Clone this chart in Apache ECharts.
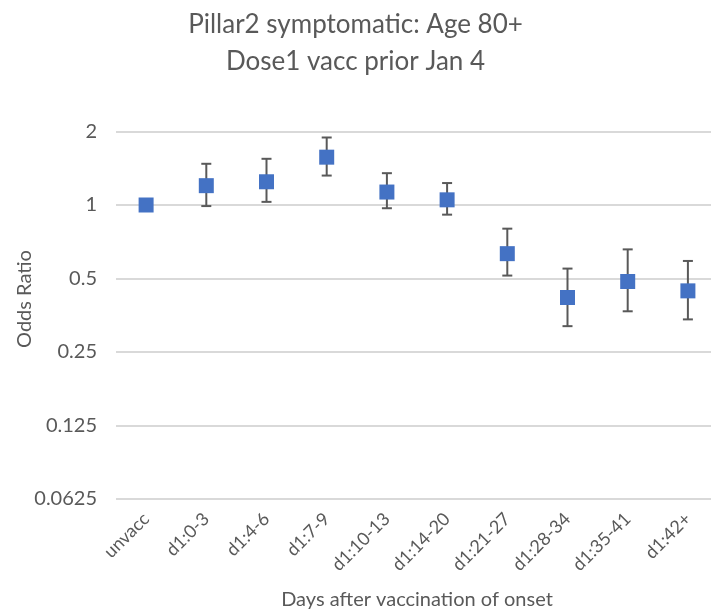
<!DOCTYPE html>
<html>
<head>
<meta charset="utf-8">
<script src="https://cdn.jsdelivr.net/npm/echarts@6/dist/echarts.min.js"></script>
<style>html,body{margin:0;padding:0;background:#fff;overflow:hidden}#c{width:711px;height:614px}</style>
</head>
<body>
<div id="c"></div>
<script>
var categories = ['unvacc','d1:0-3','d1:4-6','d1:7-9','d1:10-13','d1:14-20','d1:21-27','d1:28-34','d1:35-41','d1:42+'];
var oddsRatio = [1, 1.20, 1.245, 1.57, 1.13, 1.05, 0.632, 0.418, 0.486, 0.445];
var lowerCI   = [1, 0.99, 1.03, 1.32, 0.97, 0.913, 0.514, 0.319, 0.367, 0.34];
var upperCI   = [1, 1.475, 1.546, 1.89, 1.35, 1.23, 0.80, 0.549, 0.658, 0.59];
var yTicks = [0.0625, 0.125, 0.25, 0.5, 1, 2];

var FONT = 'Lato, "Open Sans", sans-serif';
var chart = echarts.init(document.getElementById('c'));
var errData = categories.map(function(c, i){ return [i, lowerCI[i], upperCI[i]]; });

chart.setOption({
  animation: false,
  title: {
    text: 'Pillar2 symptomatic: Age 80+\nDose1 vacc prior Jan 4',
    left: 'center', top: 1,
    textStyle: {fontFamily: FONT, fontSize: 26, fontWeight: 'normal', color: '#595959', lineHeight: 37}
  },
  graphic: [{
    type: 'text', x: 24.5, y: 299, rotation: Math.PI / 2,
    style: {text: 'Odds Ratio', fontFamily: FONT, fontSize: 20, fill: '#595959', align: 'center', verticalAlign: 'middle'}
  }],
  grid: {left: 116, width: 602, top: 131.5, bottom: 115, containLabel: false, outerBoundsMode: 'none'},
  xAxis: {
    type: 'category', data: categories,
    axisLine: {show: false}, axisTick: {show: false},
    axisLabel: {rotate: 45, color: '#595959', fontFamily: FONT, fontSize: 18, margin: 17},
    name: 'Days after vaccination of onset', nameLocation: 'middle', nameGap: 91,
    nameTextStyle: {color: '#595959', fontFamily: FONT, fontSize: 20}
  },
  yAxis: {
    type: 'log', logBase: 2, min: yTicks[0], max: yTicks[yTicks.length-1],
    axisLine: {show: false}, axisTick: {show: false},
    splitLine: {lineStyle: {color: '#d9d9d9', width: 2}},
    axisLabel: {color: '#595959', fontFamily: FONT, fontSize: 20, margin: 19,
      formatter: function(v){
        var best = yTicks.reduce(function(a,b){ return Math.abs(b-v) < Math.abs(a-v) ? b : a; });
        return String(best);
      }}
  },
  series: [
    {
      type: 'custom',
      data: errData,
      z: 2,
      renderItem: function(params, api){
        var x = api.value(0);
        var lo = api.coord([x, api.value(1)]);
        var hi = api.coord([x, api.value(2)]);
        if (Math.abs(lo[1]-hi[1]) < 1) return null;
        var hw = 5;
        var st = {stroke: '#595959', lineWidth: 2};
        return {type: 'group', children: [
          {type: 'line', shape: {x1: lo[0], y1: lo[1], x2: hi[0], y2: hi[1]}, style: st},
          {type: 'line', shape: {x1: lo[0]-hw, y1: lo[1], x2: lo[0]+hw, y2: lo[1]}, style: st},
          {type: 'line', shape: {x1: hi[0]-hw, y1: hi[1], x2: hi[0]+hw, y2: hi[1]}, style: st}
        ]};
      }
    },
    {
      type: 'scatter', data: oddsRatio, z: 3,
      symbol: 'rect', symbolSize: 15,
      itemStyle: {color: '#4472C4', opacity: 1}
    }
  ]
});
</script>
</body>
</html>
